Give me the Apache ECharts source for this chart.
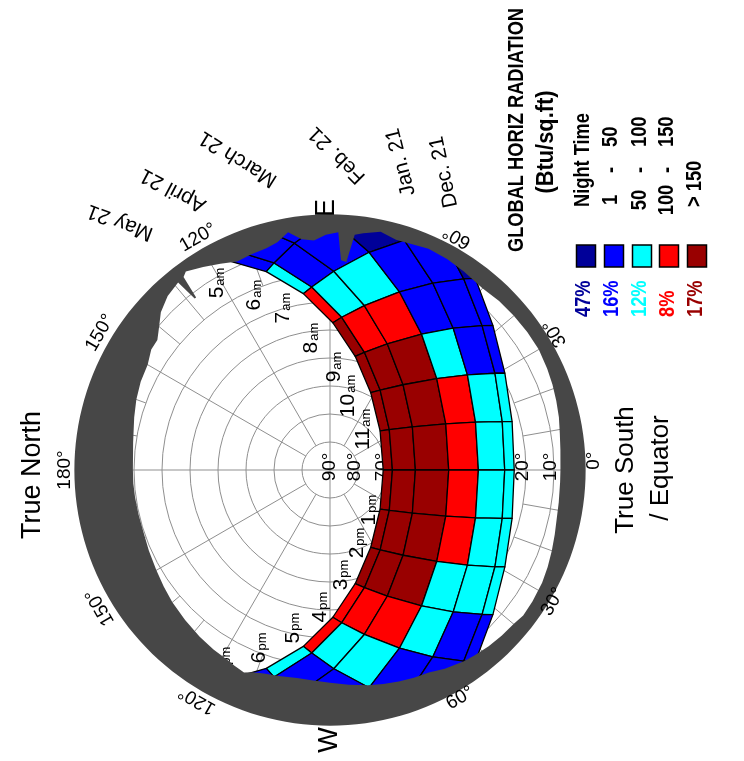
<!DOCTYPE html>
<html>
<head>
<meta charset="utf-8">
<script src="https://cdn.jsdelivr.net/npm/echarts@6/dist/echarts.min.js"></script>
<style>
html,body{margin:0;padding:0;background:#fff;}
#chart{width:744px;height:761px;}
</style>
</head>
<body>
<div id="chart"></div>
<script>
// ---------- sun path table (altitude / azimuth from south, + = east) ----------
const clockHours = [5, 6, 7, 8, 9, 10, 11, 12, 13, 14, 15, 16, 17, 18, 19];
const altJun = [5.3, 15.6, 26.3, 37.4, 48.4, 58.8, 67.3, 71.0, 67.3, 58.8, 48.4, 37.4, 26.3, 15.6, 5.3];
const azJun  = [117.1, 107.8, 98.6, 88.9, 77.5, 62.2, 38.0, 0, -38.0, -62.2, -77.5, -88.9, -98.6, -107.8, -117.1];
const altMay = [3.0, 13.4, 24.3, 35.3, 46.2, 56.3, 64.4, 67.7, 64.4, 56.3, 46.2, 35.3, 24.3, 13.4, 3.0];
const azMay  = [114.7, 105.1, 95.7, 85.6, 73.7, 57.9, 34.2, 0, -34.2, -57.9, -73.7, -85.6, -95.7, -105.1, -114.7];
const altApr = [null, 8.0, 19.0, 30.0, 40.5, 49.9, 56.8, 59.5, 56.8, 49.9, 40.5, 30.0, 19.0, 8.0, null];
const azApr  = [null, 98.9, 88.9, 78.2, 65.6, 49.4, 27.6, 0, -27.6, -49.4, -65.6, -78.2, -88.9, -98.9, null];
const altMar = [null, null, 11.0, 21.7, 31.5, 39.8, 45.5, 47.6, 45.5, 39.8, 31.5, 21.7, 11.0, null, null];
const azMar  = [null, null, 79.8, 68.7, 56.0, 40.6, 21.7, 0, -21.7, -40.6, -56.0, -68.7, -79.8, null, null];
const altFeb = [null, null, 3.7, 13.8, 22.9, 30.3, 35.3, 37.0, 35.3, 30.3, 22.9, 13.8, 3.7, null, null];
const azFeb  = [null, null, 72.1, 61.2, 49.0, 34.7, 18.2, 0, -18.2, -34.7, -49.0, -61.2, -72.1, null, null];
const altJan = [null, null, null, 6.7, 15.1, 21.7, 26.1, 27.6, 26.1, 21.7, 15.1, 6.7, null, null, null];
const azJan  = [null, null, null, 55.0, 43.5, 30.4, 15.7, 0, -15.7, -30.4, -43.5, -55.0, null, null, null];
const altDec = [null, null, null, 4.1, 12.2, 18.6, 22.7, 24.2, 22.7, 18.6, 12.2, 4.1, null, null, null];
const azDec  = [null, null, null, 52.8, 41.6, 29.0, 14.9, 0, -14.9, -29.0, -41.6, -52.8, null, null, null];
// sunrise / sunset (solar hour, azimuth) for Jun, May, Apr, Mar, Feb, Jan, Dec
const riseTime = [4.45, 4.70, 5.26, 6.00, 6.66, 7.29, 7.56];
const riseAz   = [122.6, 117.7, 106.2, 90.0, 75.6, 62.4, 57.4];
const setTime  = [19.55, 19.30, 18.74, 18.00, 17.34, 16.71, 16.44];
const setAz    = [-122.6, -117.7, -106.2, -90.0, -75.6, -62.4, -57.4];

// ---------- hourly radiation class per band (0 night, 1: 1-50, 2: 50-100, 3: 100-150, 4: >150) ----------
const hourStarts = [4, 5, 6, 7, 8, 9, 10, 11, 12, 13, 14, 15, 16, 17, 18, 19];
const radJunMay = [1, 1, 2, 3, 4, 4, 4, 4, 4, 4, 4, 3, 3, 2, 1, 1];
const radMayApr = [1, 1, 1, 2, 3, 4, 4, 4, 4, 4, 4, 3, 2, 1, 1, 1];
const radAprMar = [null, 1, 1, 2, 3, 4, 4, 4, 4, 4, 4, 3, 2, 1, 1, null];
const radMarFeb = [null, null, 0, 1, 1, 2, 3, 3, 3, 3, 2, 2, 1, 1, null, null];
const radFebJan = [null, null, 0, 1, 1, 1, 2, 2, 2, 2, 2, 1, 1, 1, null, null];
const radJanDec = [null, null, null, 0, 1, 1, 2, 2, 2, 2, 2, 1, 1, null, null, null];

// ---------- horizon obstruction (inner edge altitude by azimuth) ----------
const obsAz = [180, 172, 165, 160, 155, 150, 146, 143, 141, 137, 133, 129, 128.3, 127.8, 127.2, 126, 122, 118, 114, 110, 106, 103, 100, 97, 94, 91, 88, 87, 85.5, 84, 82, 78, 74, 70, 66, 61, 56, 50, 45, 40, 35, 30, 25, 21, 17, 13, 9, 5, 0, -3, -8, -12, -16, -20, -24, -28, -33, -37, -40, -44, -48, -52, -55, -60, -64, -68, -72, -76, -80, -85, -90, -95, -99, -104, -108, -111, -113, -116, -118, -123, -128, -134, -140, -145, -150, -156, -162, -167, -172, -176, -180];
const obsAlt = [19.6, 19.0, 17.6, 16.4, 15.4, 14.8, 13.0, 12.8, 11.2, 7.4, 5.0, 3.8, 12.0, 12.0, 3.5, 2.4, 4.5, 6.6, 8.5, 8.0, 7.6, 6.5, 3.8, 7.0, 7.8, 6.0, 5.0, 15.0, 15.5, 5.5, 4.6, 3.0, 4.5, 4.2, 3.5, 3.8, 4.5, 5.3, 4.6, 4.3, 4.0, 3.9, 4.4, 4.9, 5.5, 6.1, 6.9, 7.4, 7.7, 7.7, 7.5, 7.2, 6.5, 5.7, 4.9, 4.2, 3.8, 3.6, 4.4, 4.8, 5.3, 6.0, 6.6, 8.0, 9.5, 10.0, 10.6, 11.2, 11.9, 13.0, 14.0, 14.6, 14.8, 14.2, 13.6, 12.6, 11.4, 12.2, 12.8, 13.6, 14.4, 15.5, 16.5, 17.5, 18.4, 19.2, 19.8, 19.8, 19.7, 19.6, 19.6];
const ringEdgeAlt = -1.3;

// ---------- labels ----------
const gridAlts = [10, 20, 30, 40, 50, 60, 70, 80];
const altLabelValues = [90, 80, 70, 60, 50, 40, 30, 20, 10];
const hourLabelNum = ['5', '6', '7', '8', '9', '10', '11', '1', '2', '3', '4', '5', '6', '7'];
const hourLabelSuffix = ['am', 'am', 'am', 'am', 'am', 'am', 'am', 'pm', 'pm', 'pm', 'pm', 'pm', 'pm', 'pm'];
const hourLabelAlt = [12.0, 21.9, 29.8, 42.4, 53.2, 62.8, 71.5, 70.0, 62.2, 52.3, 40.9, 32.0, 21.6, 11.5];
const hourLabelAz = [121.1, 113.5, 106.2, 98.2, 87.8, 76.3, 50.5, -45.7, -69.7, -84.0, -94.2, -103.2, -111.7, -119.1];
const azLabelText = ['0°', '30°', '60°', 'E', '120°', '150°', '180°', '150°', '120°', 'W', '60°', '30°'];
const azLabelAz = [2, 31.3, 61.4, 90.7, 119.6, 149.2, 180, -149.2, -120, -90, -60.3, -30.6];
const azLabelAlt = [-4.3, -4.1, -4.8, -3.6, -5.4, -5.6, -4.6, -5.6, -4.9, -6.4, -3.8, -2.5];
const azLabelRot = [90, 120, 150, 90, 30, 60, 90, 120, 150, 90, 30, 60];
const monthLabelText = ['May 21', 'April 21', 'March 21', 'Feb. 21', 'Jan. 21', 'Dec. 21'];
const legendColors = ['#000099', '#0000ff', '#00ffff', '#ff0000', '#990000'];
const legendShares = ['47%', '16%', '12%', '8%', '17%'];
const legendLow = ['Night Time', '1', '50', '100', '> 150'];
const legendHigh = [null, '50', '100', '150', null];

// ---------- drawing ----------
const FONT = '"Liberation Sans", Arial, Helvetica, sans-serif';
const GRID = '#8f8f8f';
const RING = '#474747';
const R90 = Math.PI / 2;
const DEG = Math.PI / 180;
const NARROW_SCALE = 0.83;

const pathAlt = [altJun, altMay, altApr, altMar, altFeb, altJan, altDec];
const pathAz = [azJun, azMay, azApr, azMar, azFeb, azJan, azDec];
const rowRad = [radJunMay, radMayApr, radAprMar, radMarFeb, radFebJan, radJanDec];

function pathPoints(p, h0, h1) {
  const pts = [];
  if (riseTime[p] >= h0 && riseTime[p] <= h1) pts.push([0, riseAz[p]]);
  clockHours.forEach((h, i) => {
    if (h >= h0 && h <= h1 && pathAlt[p][i] !== null) pts.push([pathAlt[p][i], pathAz[p][i]]);
  });
  if (setTime[p] >= h0 && setTime[p] <= h1) pts.push([0, setAz[p]]);
  return pts;
}

// one polygon per band and hour, bounded by two month paths and two hour lines
const cells = [];
rowRad.forEach((rads, r) => {
  hourStarts.forEach((h0, k) => {
    const cls = rads[k];
    if (cls === null) return;
    const h1 = h0 + 1;
    const inner = pathPoints(r, h0, h1);
    let outer = pathPoints(r + 1, h0, h1);
    if (!inner.length) return;
    if (!outer.length) outer = [h1 <= 12 ? [0, riseAz[r + 1]] : [0, setAz[r + 1]]];
    const pts = inner.concat(outer.slice().reverse());
    if (pts.length < 3) return;
    cells.push({ pts: pts, cls: cls });
  });
});

// radial grid lines: azimuth and the altitude each one starts from
const spokeAz = [0, 90, 180, -90, 30, 60, 120, 150, -30, -60, -120, -150,
  10, 20, 40, 50, 70, 80, 100, 110, 130, 140, 160, 170,
  -10, -20, -40, -50, -70, -80, -100, -110, -130, -140, -160, -170];
const spokeFrom = [90, 90, 90, 90, 80, 80, 80, 80, 80, 80, 80, 80,
  20, 20, 20, 20, 20, 20, 20, 20, 20, 20, 20, 20,
  20, 20, 20, 20, 20, 20, 20, 20, 20, 20, 20, 20];

function textEl(x, y, text, size, rotDeg, extra, elProps) {
  return Object.assign({
    type: 'text', x: x, y: y, rotation: rotDeg * DEG,
    style: Object.assign({ text: text, fontSize: size, fontFamily: FONT, fill: '#000', align: 'center', verticalAlign: 'middle' }, extra || {})
  }, elProps || {});
}

const chart = echarts.init(document.getElementById('chart'));

const graphic = [];
graphic.push(textEl(33, 475, 'True North', 27, 90));
graphic.push(textEl(626, 470, 'True South', 26, 90));
graphic.push(textEl(661, 468, '/ Equator', 26, 90));
const monthX = [120, 173, 238, 337, 401, 444];
const monthY = [222, 190, 159, 155, 162, 172];
const monthRot = [159, 152, 148, 135, 104, 102];
monthLabelText.forEach((t, i) => graphic.push(textEl(monthX[i], monthY[i], t, 21, monthRot[i])));

// legend (condensed bold lettering)
const bold = { fontWeight: 'bold' };
const narrow = { scaleX: NARROW_SCALE };
graphic.push(textEl(517, 130, 'GLOBAL HORIZ RADIATION', 22, 90, bold, narrow));
graphic.push(textEl(547, 142, '(Btu/sq.ft)', 23, 90, bold, { scaleX: 0.95 }));
const legTextX = [583, 611, 640, 667, 695];
const legBoxX = [586, 614, 642, 669, 697];
const legPctX = [584, 612, 640, 668, 696];
legendColors.forEach((c, i) => {
  graphic.push({ type: 'rect', shape: { x: legBoxX[i] - 9.5, y: 245, width: 19, height: 22 }, style: { fill: c, stroke: '#000', lineWidth: 1.5 } });
  graphic.push(textEl(legPctX[i], 317, legendShares[i], 22, 90, { fontWeight: 'bold', fill: c, align: 'left' }, narrow));
  if (legendHigh[i] === null) {
    graphic.push(textEl(legTextX[i], 207, legendLow[i], 22, 90, Object.assign({ align: 'left' }, bold), narrow));
  } else {
    graphic.push(textEl(legTextX[i], 200, legendLow[i], 22, 90, bold, narrow));
    graphic.push(textEl(legTextX[i], 170, '-', 22, 90, bold, narrow));
    graphic.push(textEl(legTextX[i], 147, legendHigh[i], 22, 90, Object.assign({ align: 'left' }, bold), narrow));
  }
});

const option = {
  animation: false,
  backgroundColor: '#ffffff',
  polar: { center: [330, 470], radius: 280 },
  angleAxis: { type: 'value', min: -180, max: 180, startAngle: 180, clockwise: false, show: false },
  radiusAxis: { type: 'value', min: -10, max: 90, inverse: true, show: false },
  graphic: graphic,
  series: [
    { // altitude circles
      type: 'custom', coordinateSystem: 'polar', silent: true, z: 1,
      data: gridAlts.map(a => [a, 0]),
      renderItem: (params, api) => {
        const c = api.coord([90, 0]);
        const p = api.coord([gridAlts[params.dataIndex], 0]);
        return { type: 'circle', shape: { cx: c[0], cy: c[1], r: Math.hypot(p[0] - c[0], p[1] - c[1]) },
          style: { fill: 'none', stroke: GRID, lineWidth: 1 } };
      }
    },
    { // azimuth lines
      type: 'custom', coordinateSystem: 'polar', silent: true, z: 1,
      data: spokeAz.map((a, i) => [spokeFrom[i], a]),
      renderItem: (params, api) => {
        const i = params.dataIndex;
        const a = api.coord([spokeFrom[i], spokeAz[i]]);
        const b = api.coord([0, spokeAz[i]]);
        return { type: 'line', shape: { x1: a[0], y1: a[1], x2: b[0], y2: b[1] }, style: { stroke: GRID, lineWidth: 1 } };
      }
    },
    { // altitude tick labels
      type: 'custom', coordinateSystem: 'polar', silent: true, z: 2,
      data: altLabelValues.map(v => [v, 0]),
      renderItem: (params, api) => {
        const v = altLabelValues[params.dataIndex];
        const p = api.coord([Math.min(v + 1, 90), 0]);
        return textEl(p[0], p[1] - 3, v + '°', 19, 90);
      }
    },
    { // hour labels
      type: 'custom', coordinateSystem: 'polar', silent: true, z: 2,
      data: hourLabelAlt.map((a, i) => [a, hourLabelAz[i]]),
      renderItem: (params, api) => {
        const i = params.dataIndex;
        const p = api.coord([hourLabelAlt[i], hourLabelAz[i]]);
        const wn = hourLabelNum[i].length * 11.7;
        const j = -(wn + 19) / 2 + wn;
        return { type: 'group', x: p[0], y: p[1], rotation: R90, children: [
          { type: 'text', x: j, y: 0, style: { text: hourLabelNum[i], fontSize: 21, fontFamily: FONT, fill: '#000', align: 'right', verticalAlign: 'middle' } },
          { type: 'text', x: j + 1, y: 3, style: { text: hourLabelSuffix[i], fontSize: 13, fontFamily: FONT, fill: '#000', align: 'left', verticalAlign: 'middle' } }
        ] };
      }
    },
    { // radiation cells
      type: 'custom', coordinateSystem: 'polar', silent: true, z: 5,
      data: cells.map(c => [c.pts[0][0], c.pts[0][1]]),
      renderItem: (params, api) => {
        const c = cells[params.dataIndex];
        return { type: 'polygon', shape: { points: c.pts.map(p => api.coord(p)) },
          style: { fill: legendColors[c.cls], stroke: '#000', lineWidth: 1.3, lineJoin: 'round' } };
      }
    },
    { // horizon obstruction ring
      type: 'custom', coordinateSystem: 'polar', silent: true, z: 8,
      data: [[0, 0]],
      renderItem: (params, api) => {
        const pts = [];
        for (let a = -180; a <= 180; a += 2) pts.push(api.coord([ringEdgeAlt, a]));
        obsAz.forEach((a, i) => pts.push(api.coord([obsAlt[i], a])));
        return { type: 'polygon', shape: { points: pts }, style: { fill: RING, stroke: null } };
      }
    },
    { // azimuth labels
      type: 'custom', coordinateSystem: 'polar', silent: true, z: 9,
      data: azLabelAz.map((a, i) => [azLabelAlt[i], a]),
      renderItem: (params, api) => {
        const i = params.dataIndex;
        const p = api.coord([azLabelAlt[i], azLabelAz[i]]);
        const big = azLabelText[i] === 'E' || azLabelText[i] === 'W';
        return textEl(p[0], p[1], azLabelText[i], big ? 27 : 19, azLabelRot[i]);
      }
    }
  ]
};
chart.setOption(option);
</script>
</body>
</html>
